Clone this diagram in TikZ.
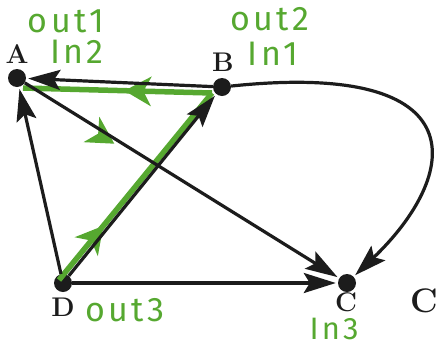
\documentclass[tikz,border=0pt]{standalone}
\usepackage{fontspec}
\newfontfamily\handfont[LetterSpace=10]{Fira Sans}
\usetikzlibrary{arrows.meta,decorations.markings}
\definecolor{pen}{RGB}{86,168,48}
\definecolor{ink}{RGB}{28,28,28}

\begin{document}
\begin{tikzpicture}[x=1pt, y=-1pt,
		dot/.style={circle, fill=ink, inner sep=0pt, minimum size=18pt},
		edge/.style={line width=3.2pt, ink, -{Stealth[length=32pt, width=20pt, inset=6pt]}, shorten >=2pt},
		lbl/.style={font=\fontsize{27}{30}\selectfont\bfseries, text=ink, inner sep=0pt},
		hand/.style={font=\handfont\fontsize{34}{36}\selectfont, text=pen, inner sep=0pt},
		trail/.style={line width=5.5pt, pen},
		greentip/.style={postaction={decorate}, decoration={markings,
			mark=at position #1 with {\fill[pen] (12pt,0) -- (-15pt,15pt) -- (-7pt,0) -- (-15pt,-15pt) -- cycle;}}}
	]
		\useasboundingbox (0,0) rectangle (437,349);
		\begin{scope}
			% vertices
			\foreach \v/\x/\y in {A/17/78, B/222/87, D/63/283, C/347/283} {
				\node[dot] (\v) at (\x,\y) {};
			}
			\node[lbl] (labA) at (17,54)  {A};
			\node[lbl] (labB) at (223,62) {B};
			\node[lbl] (labD) at (63,307) {D};
			\node[lbl] (labC) at (346,302) {C};
			\node[font=\fontsize{34}{36}\selectfont\bfseries, text=ink, inner sep=0pt] (stray) at (424,301) {C};

			% green trail
			\draw[trail, greentip=0.24] ([shift={(-4,-3)}]D.center) -- ([shift={(-10,6)}]B.center);
			\draw[trail, greentip=0.40] ([shift={(-10,6)}]B.center) -- ([shift={(6,10)}]A.center);
			\path[greentip=0.27] ([shift={(-2,4)}]A.center) -- ([shift={(-2,4)}]C.center);

			% arcs
			\foreach \from/\to in {B/A, D/A, D/B, A/C, D/C} {
				\draw[edge] (\from) -- (\to);
			}
			\draw[edge] (B) .. controls (480,60) and (460,175) .. (C);

			% in/out notes
			\node[hand] (outA) at (66,21)  {out1};
			\node[hand] (inA)  at (77,52)  {In2};
			\node[hand] (outB) at (270,19) {out2};
			\node[hand] (inB)  at (273,54) {In1};
			\node[hand] (outD) at (125,310) {out3};
			\node[hand, font=\handfont\fontsize{31}{33}\selectfont] (inC) at (334,329) {In3};
		\end{scope}
	\end{tikzpicture}
\end{document}
